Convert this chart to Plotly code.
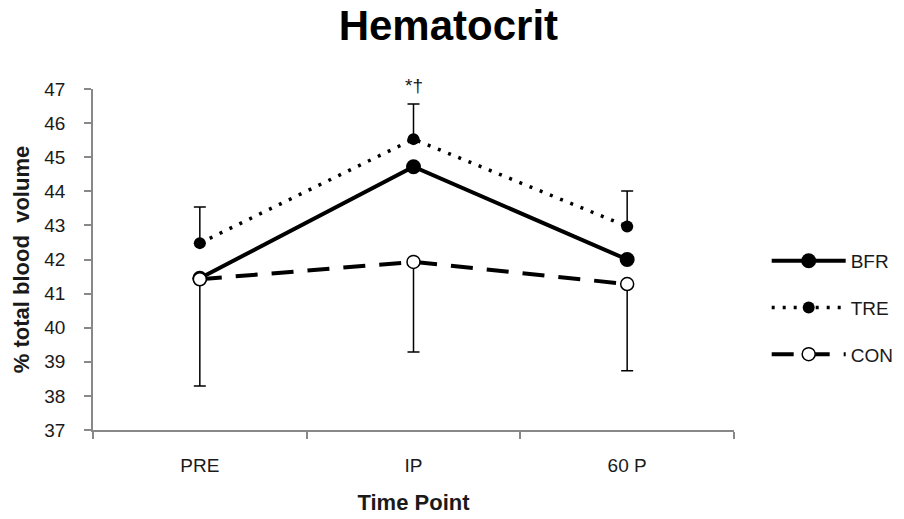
import plotly.graph_objects as go

time_points = ["PRE", "IP", "60 P"]
bfr = [41.45, 44.72, 42.0]
tre = [42.48, 45.53, 42.97]
con = [41.42, 41.93, 41.28]
tre_err_plus = [1.06, 1.03, 1.04]
con_err_minus = [3.13, 2.64, 2.54]
zeros = [0, 0, 0]

FONT = "Liberation Sans"
TICKFONT = dict(family=FONT, size=19, color="#1a1a1a")
fig = go.Figure()

fig.add_trace(go.Scatter(
    x=time_points, y=bfr, name="BFR", legendgroup="a", mode="lines+markers",
    line=dict(color="black", width=4),
    marker=dict(size=15, color="black"),
))
fig.add_trace(go.Scatter(
    x=time_points, y=tre, name="TRE", legendgroup="b", mode="lines+markers",
    line=dict(color="black", width=3.5, dash="3px,8px"),
    marker=dict(size=12, color="black"),
    error_y=dict(type="data", symmetric=False, array=tre_err_plus, arrayminus=zeros,
                 color="black", thickness=1.5, width=6),
))
fig.add_trace(go.Scatter(
    x=time_points, y=con, name="CON", legendgroup="c", mode="lines+markers",
    line=dict(color="black", width=4, dash="22px,14px"),
    marker=dict(size=13, color="white", line=dict(color="black", width=1.5)),
    error_y=dict(type="data", symmetric=False, array=zeros, arrayminus=con_err_minus,
                 color="black", thickness=1.5, width=6),
))

fig.add_annotation(x="IP", y=46.56, yshift=6, text="*†", showarrow=False,
                   yanchor="bottom", font=dict(family=FONT, size=19, color="#1a1a1a"))

fig.update_layout(
    width=904, height=519,
    margin=dict(l=93, r=170, t=89, b=89, autoexpand=False),
    paper_bgcolor="white", plot_bgcolor="white",
    title=dict(text="<b>Hematocrit</b>", x=0.496, xanchor="center", y=0.952, yanchor="middle",
               font=dict(family=FONT, size=42, color="black")),
    xaxis=dict(
        type="category", range=[-0.5, 2.5], tickson="boundaries", automargin=False,
        ticks="outside", ticklen=7, tickcolor="#888", tickwidth=1.5,
        showline=True, linecolor="#888", linewidth=1.5, showgrid=False,
        tickfont=TICKFONT, ticklabelstandoff=17,
        title=dict(text="<b>Time Point</b>", standoff=20,
                   font=dict(family=FONT, size=22, color="#1a1a1a")),
    ),
    yaxis=dict(
        range=[37, 47], dtick=1, ticks="outside", ticklen=7, tickcolor="#888", tickwidth=1.5,
        showline=True, linecolor="#888", linewidth=1.5, showgrid=False, zeroline=False,
        tickfont=TICKFONT, ticklabelstandoff=15, automargin=False,
        title=dict(text="<b>% total blood&nbsp; volume</b>", standoff=9,
                   font=dict(family=FONT, size=22, color="#1a1a1a")),
    ),
    legend=dict(x=1.051, y=0.358, xanchor="left", yanchor="middle",
                font=dict(family=FONT, size=19, color="#1a1a1a"),
                itemwidth=74, tracegroupgap=19, bgcolor="rgba(0,0,0,0)"),
    showlegend=True,
)

fig.write_html("out.html")
